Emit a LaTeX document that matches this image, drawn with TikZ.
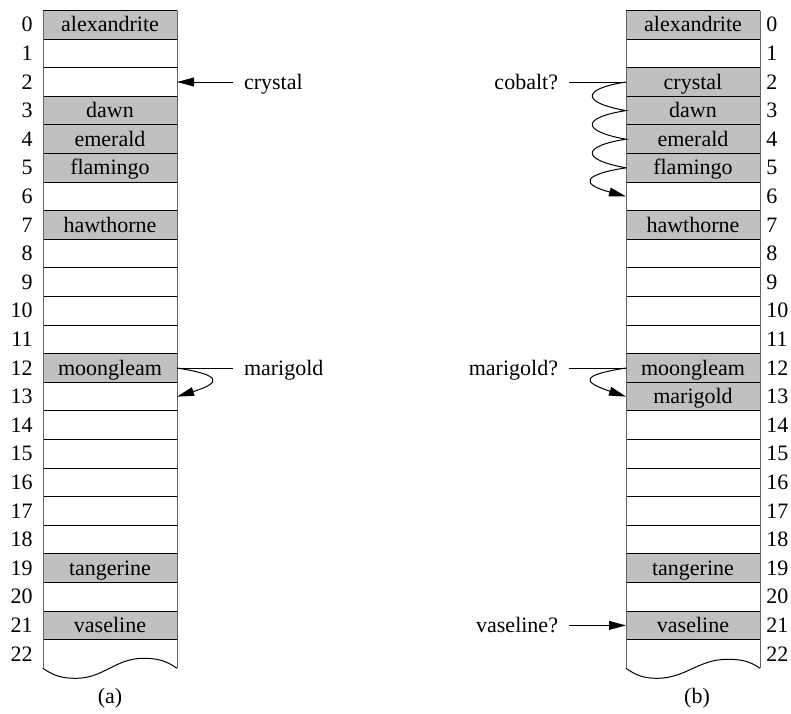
\documentclass[tikz,border=0pt]{standalone}
\usepackage{fontspec}
\setmainfont{Liberation Serif}
\usetikzlibrary{arrows.meta,calc}
\definecolor{cellgray}{RGB}{192,192,192}
\definecolor{sidegray}{RGB}{100,100,100}
\begin{document}
\begin{tikzpicture}[x=0.5pt,y=0.5pt,
  font=\fontsize{11}{13}\selectfont,
  cell/.style={minimum width=67pt, minimum height=14.3pt, inner sep=0pt, outer sep=0pt, text height=8pt, text depth=1pt},
  full/.style={cell, fill=cellgray},
  num/.style={inner sep=0pt, text height=8pt, text depth=1pt},
  lbl/.style={inner sep=0pt, outer sep=5.5pt, text height=8pt, text depth=1pt},
  sep/.style={line width=0.5pt},
  side/.style={draw=sidegray, line width=0.5pt},
  conn/.style={line width=0.5pt},
  tip/.style={-{Triangle[length=8.5pt,width=4.4pt]}, line width=0.5pt},
]
\useasboundingbox (0,0) rectangle (791,-713);

% empty cells and row numbers
\foreach \i in {0,...,22} {
  \node[cell] (a\i) at (110,{-(24.8+28.6*\i)}) {};
  \node[cell] (b\i) at (693,{-(24.8+28.6*\i)}) {};
  \node[num,anchor=east] (la\i) at (33,{-(24.8+28.6*\i)}) {\i};
  \node[num,anchor=west] (lb\i) at (766,{-(24.8+28.6*\i)}) {\i};
}

% occupied cells
\foreach \i/\t in {0/alexandrite,3/dawn,4/emerald,5/flamingo,7/hawthorne,12/moongleam,19/tangerine,21/vaseline}
  \node[full] (fa\i) at (a\i) {\t};
\foreach \i/\t in {0/alexandrite,2/crystal,3/dawn,4/emerald,5/flamingo,7/hawthorne,12/moongleam,13/marigold,19/tangerine,21/vaseline}
  \node[full] (fb\i) at (b\i) {\t};

% separators
\foreach \i in {0,...,22} {
  \draw[sep] (a\i.north west) -- (a\i.north east);
  \draw[sep] (b\i.north west) -- (b\i.north east);
}

% sides
\draw[side] (a0.north west) -- (a22.south west);
\draw[side] (a0.north east) -- (a22.south east);
\draw[side] (b0.north west) -- (b22.south west);
\draw[side] (b0.north east) -- (b22.south east);

% wavy bottoms
\draw[sep] (a22.south west) to[out=-35,in=180] ($(a22.south west)+(33,-10)$)
  to[out=0,in=180] ($(a22.south east)+(-34,10)$) to[out=0,in=145] (a22.south east);
\draw[sep] (b22.south west) to[out=-35,in=180] ($(b22.south west)+(31,-10)$)
  to[out=0,in=180] ($(b22.south east)+(-33,9)$) to[out=0,in=145] (b22.south east);

% (a) arrows
\node[lbl,anchor=west] (crystal) at ($(a2.east)+(56,0)$) {crystal};
\draw[tip] (crystal.west) -- (a2.east);
\node[lbl,anchor=west] (marigoldA) at ($(a12.east)+(56,0)$) {marigold};
\draw[conn] (marigoldA.west) -- (a12.east);
\draw[tip] (a12.east) .. controls +(45,-7) and +(45,14) .. (a13.east);

% (b) arrows
\node[lbl,anchor=east] (cobalt) at ($(b2.west)+(-57,0)$) {cobalt?};
\draw[conn] (cobalt.east) -- (b2.west);
\draw[conn] (b2.west) .. controls +(-45,-7) and +(-45,8) .. (b3.west)
  .. controls +(-45,-7) and +(-45,8) .. (b4.west)
  .. controls +(-45,-7) and +(-45,8) .. (b5.west);
\draw[tip] (b5.west) .. controls +(-45,-7) and +(-45,12) .. (b6.west);

\node[lbl,anchor=east] (marigoldB) at ($(b12.west)+(-57,0)$) {marigold?};
\draw[conn] (marigoldB.east) -- (b12.west);
\draw[tip] (b12.west) .. controls +(-45,-7) and +(-45,15) .. (b13.west);

\node[lbl,anchor=east] (vaselineQ) at ($(b21.west)+(-57,0)$) {vaseline?};
\draw[tip] (vaselineQ.east) -- (b21.west);

% captions
\node (capa) at (110,-698) {(a)};
\node (capb) at (697,-698) {(b)};
\end{tikzpicture}
\end{document}
